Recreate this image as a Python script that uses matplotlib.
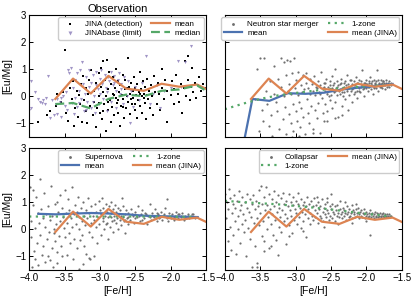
import numpy as np
import matplotlib
matplotlib.use("Agg")
import matplotlib.pyplot as plt

plt.rcParams.update({
    "font.family": ["Liberation Sans", "DejaVu Sans"],
    "font.size": 7,
    "axes.linewidth": 0.8,
    "xtick.direction": "in",
    "ytick.direction": "in",
    "xtick.top": True,
    "ytick.right": True,
    "xtick.major.size": 3,
    "ytick.major.size": 3,
    "axes.unicode_minus": True,
})

# ---- binned lines ----
jina_x = [-3.63, -3.38, -3.13, -2.88, -2.63, -2.38, -2.13, -1.88, -1.63, -1.50]
jina_mean = [-0.10, 0.65, 0.10, 0.75, 0.28, 0.20, 0.46, 0.35, 0.43, 0.27]
jina_median = [-0.29, -0.25, -0.45, -0.10, 0.06, 0.00, 0.20, 0.25, 0.40, 0.20]

nsm_mean_x = [-3.86, -3.61, -3.37, -3.11, -2.86, -2.60, -2.34, -2.10, -1.84, -1.63]
nsm_mean = [-3.40, -0.10, -0.17, 0.11, 0.09, 0.13, 0.25, 0.32, 0.38, 0.45]
nsm_1zone_x = [-4.00, -3.75, -3.50, -3.25, -3.00, -2.75, -2.50, -2.25, -2.00, -1.75, -1.65]
nsm_1zone = [-0.48, -0.28, -0.10, 0.03, 0.12, 0.20, 0.27, 0.32, 0.37, 0.40, 0.42]

sn_mean_x = [-3.87, -3.62, -3.37, -3.12, -2.87, -2.62, -2.37, -2.12, -1.87, -1.62]
sn_mean = [0.57, 0.55, 0.58, 0.60, 0.58, 0.55, 0.50, 0.48, 0.47, 0.45]
sn_1zone_x = [-4.00, -3.50, -3.00, -2.50, -2.00, -1.65]
sn_1zone = [0.47, 0.47, 0.47, 0.47, 0.46, 0.46]

col_1zone_x = [-4.00, -3.75, -3.50, -3.25, -3.00, -2.75, -2.50, -2.25, -2.00, -1.75, -1.65]
col_1zone = [1.05, 1.00, 0.96, 0.92, 0.86, 0.80, 0.73, 0.65, 0.57, 0.50, 0.47]

# ---- scatter points ----
jina_det = [(-3.88,-0.95),(-3.75,-0.7),(-3.7,-0.55),(-3.62,-0.35),(-3.6,0.1),(-3.55,-0.2),(-3.52,0.15),(-3.5,1.72),
    (-3.48,-0.6),(-3.45,-0.9),(-3.42,0.3),(-3.4,-0.1),(-3.38,0.55),(-3.36,-1.1),(-3.35,-0.45),(-3.33,0.2),(-3.31,-0.75),
    (-3.3,0.05),(-3.28,-0.3),(-3.27,0.45),(-3.25,-0.95),(-3.24,0.75),(-3.22,-0.15),(-3.2,0.3),(-3.19,-0.55),(-3.18,-1.0),
    (-3.17,0.1),(-3.15,0.6),(-3.14,-0.35),(-3.12,0.95),(-3.1,-0.7),(-3.09,0.2),(-3.08,-0.2),(-3.06,0.5),(-3.05,-1.15),
    (-3.04,-0.45),(-3.02,0.85),(-3.01,0.0),(-3.0,-0.6),(-2.99,0.35),(-2.98,1.05),(-2.97,-0.85),(-2.96,0.15),(-2.95,1.3),
    (-2.94,-0.3),(-2.93,0.6),(-2.92,-1.3),(-2.91,0.0),(-2.9,1.35),(-2.89,-0.5),(-2.88,0.25),(-2.87,0.9),(-2.86,-0.15),
    (-2.85,-0.95),(-2.84,0.45),(-2.83,-0.4),(-2.82,0.1),(-2.81,0.7),(-2.8,-0.7),(-2.79,0.3),(-2.78,-0.05),(-2.77,1.0),
    (-2.76,-0.25),(-2.75,0.55),(-2.74,-0.6),(-2.73,0.15),(-2.72,-1.1),(-2.71,0.4),(-2.7,-0.35),(-2.69,0.05),(-2.68,0.8),
    (-2.67,-0.1),(-2.66,-0.8),(-2.65,0.25),(-2.64,0.6),(-2.63,-0.45),(-2.62,0.0),(-2.61,1.4),(-2.6,-0.2),(-2.59,0.35),
    (-2.58,-0.65),(-2.57,0.1),(-2.56,0.5),(-2.55,-0.3),(-2.54,0.2),(-2.53,-0.05),(-2.52,0.7),(-2.51,-0.5),(-2.5,0.3),
    (-2.49,0.05),(-2.48,-0.8),(-2.47,0.45),(-2.46,-0.15),(-2.45,0.15),(-2.44,0.9),(-2.43,-0.35),(-2.42,0.25),(-2.41,0.0),
    (-2.4,-0.6),(-2.39,0.55),(-2.38,0.1),(-2.37,-0.25),(-2.36,0.35),(-2.35,-0.85),(-2.34,0.05),(-2.33,0.65),(-2.32,-0.1),
    (-2.31,0.2),(-2.3,-0.45),(-2.28,0.4),(-2.26,0.0),(-2.25,-0.7),(-2.24,0.75),(-2.22,0.15),(-2.2,-0.3),(-2.18,0.5),
    (-2.16,0.1),(-2.15,-0.5),(-2.13,0.3),(-2.12,1.0),(-2.1,-0.1),(-2.08,0.6),(-2.06,0.2),(-2.05,-0.95),(-2.03,0.4),
    (-2.0,0.05),(-1.98,0.55),(-1.96,-0.3),(-1.95,0.25),(-1.92,0.8),(-1.9,0.1),(-1.88,-0.2),(-1.86,0.45),(-1.84,-0.6),
    (-1.82,0.3),(-1.8,1.3),(-1.78,0.0),(-1.76,0.6),(-1.75,1.5),(-1.73,-0.15),(-1.71,0.35),(-1.7,1.05),(-1.68,0.15),
    (-1.66,0.5),(-1.64,-0.05),(-1.62,0.4),(-1.6,0.7),(-1.58,0.2),(-1.55,0.45),(-1.52,0.3),(-3.02,-0.25),(-2.96,-0.55),
    (-2.88,-0.2),(-2.8,0.05),(-2.74,-0.15),(-2.68,-0.4),(-2.62,0.3),(-2.56,-0.1),(-2.5,-0.3),(-2.44,0.1),(-2.38,-0.05)]

jina_lim = [(-4.0,-0.5),(-3.98,-0.45),(-3.97,0.55),(-3.92,0.15),(-3.88,-0.1),(-3.85,-0.2),(-3.82,-0.25),(-3.8,-0.15),
    (-3.78,-0.3),(-3.76,-0.05),(-3.73,0.75),(-3.7,-0.8),(-3.68,-0.15),(-3.65,-0.7),(-3.62,-0.3),(-3.6,-0.1),(-3.57,-0.2),
    (-3.55,-0.05),(-3.52,0.0),(-3.5,-0.35),(-3.48,0.15),(-3.46,-0.5),(-3.45,0.95),(-3.43,0.85),(-3.41,1.05),(-3.4,-0.25),
    (-3.38,0.3),(-3.36,-0.65),(-3.35,0.6),(-3.33,0.85),(-3.32,-0.4),(-3.3,0.2),(-3.28,0.95),(-3.27,-0.1),(-3.25,1.25),
    (-3.24,0.45),(-3.22,-0.55),(-3.21,0.1),(-3.2,0.7),(-3.18,-0.2),(-3.16,0.35),(-3.15,0.95),(-3.13,-0.45),(-3.12,0.5),
    (-3.1,0.8),(-3.08,0.0),(-3.07,-0.6),(-3.05,0.9),(-3.03,0.25),(-3.02,-0.3),(-3.0,0.65),(-2.98,0.95),(-2.97,0.45),
    (-2.95,-0.1),(-2.93,0.8),(-2.92,0.3),(-2.9,-0.55),(-2.88,0.7),(-2.87,0.55),(-2.85,0.9),(-2.84,-0.2),(-2.82,0.4),
    (-2.8,0.75),(-2.78,0.2),(-2.77,-0.45),(-2.75,0.6),(-2.73,0.85),(-2.72,0.1),(-2.7,0.45),(-2.68,-0.3),(-2.66,0.7),
    (-2.64,0.3),(-2.62,0.0),(-2.6,0.55),(-2.58,-1.0),(-2.56,0.2),(-2.54,-0.4),(-2.5,0.35),(-2.45,-0.15),(-2.4,0.5),
    (-2.35,1.5),(-2.3,-0.3),(-2.25,0.1),(-2.2,0.4),(-2.15,-0.45),(-2.1,0.2),(-2.0,0.3),(-1.9,1.3),(-1.85,0.35),
    (-1.8,1.25),(-1.72,1.85),(-3.55,-0.75),(-3.6,-0.65),(-3.3,-0.25),(-3.2,-0.5),(-3.1,-0.2),(-3.0,0.1),(-2.9,0.15),
    (-2.8,0.5),(-2.7,0.25),(-3.35,-0.05),(-3.05,0.4),(-2.95,0.55)]

nsm_pts = [(-3.58,-0.1),(-3.55,1.0),(-3.52,-1.3),(-3.5,1.4),(-3.48,-0.5),(-3.46,-0.9),(-3.44,1.42),(-3.42,0.2),(-3.4,-0.3),
    (-3.38,-1.1),(-3.36,0.55),(-3.35,-0.7),(-3.33,-1.45),(-3.31,0.1),(-3.3,1.1),(-3.28,-0.2),(-3.26,-0.55),(-3.25,0.65),
    (-3.23,-1.2),(-3.21,0.35),(-3.2,1.4),(-3.18,-0.85),(-3.17,0.0),(-3.16,1.25),(-3.15,-0.4),(-3.14,0.8),(-3.13,-1.4),
    (-3.12,1.35),(-3.11,0.2),(-3.1,-0.65),(-3.09,0.45),(-3.08,1.3),(-3.07,-1.0),(-3.06,0.1),(-3.05,0.85),(-3.04,-0.3),
    (-3.03,-1.3),(-3.02,1.4),(-3.01,0.3),(-3.0,-0.55),(-2.99,0.6),(-2.98,-0.9),(-2.97,0.05),(-2.96,0.9),(-2.95,-0.2),
    (-2.94,-1.15),(-2.93,0.4),(-2.92,-0.45),(-2.91,0.15),(-2.9,0.8),(-2.89,-0.75),(-2.88,0.25),(-2.87,-1.4),(-2.86,0.5),
    (-2.85,0.85),(-2.84,-0.1),(-2.83,-0.6),(-2.82,0.3),(-2.81,-1.0),(-2.8,0.65),(-2.79,0.1),(-2.78,-0.35),(-2.77,0.45),
    (-2.76,-1.2),(-2.75,0.2),(-2.74,0.75),(-2.73,-0.5),(-2.72,0.05),(-2.71,0.35),(-2.7,-0.8),(-2.69,0.55),(-2.68,-0.25),
    (-2.67,0.15),(-2.66,-1.35),(-2.65,0.4),(-2.64,0.9),(-2.63,-0.05),(-2.62,0.3),(-2.61,-0.6),(-2.6,0.5),(-2.59,0.2),
    (-2.58,-0.3),(-2.57,0.65),(-2.56,0.1),(-2.55,-0.9),(-2.54,0.35),(-2.53,0.0),(-2.52,0.55),(-2.51,-0.15),(-2.5,0.25),
    (-2.49,0.75),(-2.48,-0.45),(-2.47,0.4),(-2.46,0.15),(-2.45,1.0),(-2.44,-0.2),(-2.43,0.3),(-2.42,0.55),(-2.41,0.05),
    (-2.4,-0.75),(-2.39,0.2),(-2.38,0.45),(-2.37,0.1),(-2.36,0.65),(-2.35,-0.35),(-2.34,0.3),(-2.33,0.0),(-2.32,0.5),
    (-2.31,0.15),(-2.3,-0.1),(-2.29,0.4),(-2.28,0.8),(-2.27,0.25),(-2.26,-0.5),(-2.25,0.35),(-2.24,0.05),(-2.23,0.6),
    (-2.22,0.2),(-2.21,0.45),(-2.2,-0.2),(-2.19,0.3),(-2.18,0.55),(-2.17,0.1),(-2.16,0.4),(-2.15,0.7),(-2.14,0.2),
    (-2.13,-0.05),(-2.12,0.5),(-2.11,0.3),(-2.1,0.6),(-2.09,0.15),(-2.08,0.45),(-2.07,0.35),(-2.06,0.95),(-2.05,0.25),
    (-2.04,0.5),(-2.03,0.0),(-2.02,0.4),(-2.01,0.6),(-2.0,0.3),(-1.99,0.45),(-1.98,0.2),(-1.97,0.55),(-1.96,0.35),
    (-1.95,0.7),(-1.94,0.25),(-1.93,0.5),(-1.92,0.4),(-1.91,0.1),(-1.9,0.6),(-1.89,0.35),(-1.88,0.45),(-1.87,0.3),
    (-1.86,0.55),(-1.85,0.95),(-1.84,0.4),(-1.83,0.2),(-1.82,0.5),(-1.81,0.35),(-1.8,0.6),(-1.79,0.45),(-1.78,0.3),
    (-1.77,0.55),(-1.76,0.4),(-1.75,0.5),(-1.74,0.25),(-1.73,0.45),(-1.72,0.6),(-1.71,0.35),(-1.7,0.5),(-1.69,0.4),
    (-1.68,0.55),(-1.67,0.45),(-1.66,0.5),(-1.65,0.4),(-2.45,-0.8),(-2.6,-0.9),(-2.95,-1.45),(-3.05,-1.5),(-2.75,-1.35),
    (-2.55,-0.55),(-2.35,-0.7),(-2.4,0.4),(-2.38,0.25),(-2.36,0.5),(-2.34,0.15),(-2.32,0.35),(-2.3,0.55),(-2.28,0.2),
    (-2.26,0.45),(-2.24,0.3),(-2.22,0.6),(-2.2,0.25),(-2.18,0.4),(-2.16,0.15),(-2.14,0.5),(-2.12,0.35),(-2.1,0.2),
    (-2.08,0.55),(-2.06,0.4),(-2.04,0.3),(-2.02,0.5),(-2.0,0.45),(-1.98,0.35),(-1.96,0.5),(-1.94,0.4),(-1.92,0.55),
    (-1.9,0.3),(-1.88,0.5),(-1.86,0.4),(-1.84,0.6),(-1.82,0.45),(-1.8,0.35),(-1.78,0.5),(-1.76,0.55),(-1.74,0.4),
    (-1.72,0.5),(-1.7,0.45),(-1.68,0.35),(-1.66,0.45),(-2.7,0.3),(-2.65,0.1),(-2.6,0.35),(-2.58,0.5),(-2.55,0.15),
    (-2.52,0.4),(-2.5,0.05),(-2.48,0.3),(-2.46,0.5),(-2.44,0.2),(-2.42,0.35)]

sn_pts = [(-3.99,1.55),(-3.98,0.3),(-3.97,-0.3),(-3.96,-1.4),(-3.95,1.45),(-3.94,0.9),(-3.93,-0.8),(-3.92,-1.1),(-3.91,0.05),
    (-3.9,1.2),(-3.89,-0.5),(-3.88,0.6),(-3.87,-1.3),(-3.86,0.25),(-3.85,1.85),(-3.84,-0.2),(-3.83,0.75),(-3.82,-0.95),
    (-3.81,0.4),(-3.8,-0.6),(-3.79,1.35),(-3.78,0.1),(-3.77,-1.2),(-3.76,0.55),(-3.75,-0.35),(-3.74,-1.0),(-3.73,0.85),
    (-3.72,-0.1),(-3.71,-1.15),(-3.7,0.35),(-3.69,1.6),(-3.68,-0.7),(-3.67,0.5),(-3.66,-1.4),(-3.65,0.0),(-3.64,0.95),
    (-3.63,-0.45),(-3.62,0.2),(-3.61,1.0),(-3.6,-0.85),(-3.59,0.65),(-3.58,-0.25),(-3.57,1.25),(-3.56,0.3),(-3.55,-0.6),
    (-3.54,0.8),(-3.53,-1.0),(-3.52,0.45),(-3.51,0.05),(-3.5,1.45),(-3.49,-0.3),(-3.48,0.6),(-3.47,-0.95),(-3.46,0.25),
    (-3.45,1.1),(-3.44,-0.15),(-3.43,0.7),(-3.42,-0.5),(-3.41,0.4),(-3.4,1.55),(-3.39,0.1),(-3.38,-1.1),(-3.37,0.55),
    (-3.36,-0.35),(-3.35,0.9),(-3.34,0.2),(-3.33,-0.7),(-3.32,0.65),(-3.31,1.2),(-3.3,0.0),(-3.29,0.45),(-3.28,-0.4),
    (-3.27,0.8),(-3.26,0.3),(-3.25,-0.2),(-3.24,1.0),(-3.23,0.5),(-3.22,-0.6),(-3.21,0.15),(-3.2,0.7),(-3.19,-0.9),
    (-3.18,0.4),(-3.17,1.15),(-3.16,-0.1),(-3.15,0.6),(-3.14,-1.1),(-3.13,0.25),(-3.12,0.85),(-3.11,-0.3),(-3.1,0.5),
    (-3.09,-1.0),(-3.08,0.35),(-3.07,0.95),(-3.06,0.1),(-3.05,0.65),(-3.04,-0.5),(-3.03,0.45),(-3.02,1.05),(-3.01,0.2),
    (-3.0,0.7),(-2.99,-0.2),(-2.98,0.55),(-2.97,1.15),(-2.96,0.3),(-2.95,0.8),(-2.94,0.0),(-2.93,0.5),(-2.92,0.95),
    (-2.91,0.2),(-2.9,0.65),(-2.89,-0.35),(-2.88,0.45),(-2.87,0.85),(-2.86,0.1),(-2.85,0.6),(-2.84,1.0),(-2.83,0.3),
    (-2.82,0.75),(-2.81,-0.1),(-2.8,0.5),(-2.79,0.9),(-2.78,0.25),(-2.77,0.65),(-2.76,0.4),(-2.75,0.8),(-2.74,0.0),
    (-2.73,0.55),(-2.72,0.35),(-2.71,0.7),(-2.7,0.15),(-2.69,1.17),(-2.68,0.45),(-2.67,0.85),(-2.66,0.3),(-2.65,0.55),
    (-2.64,-0.15),(-2.63,0.7),(-2.62,0.4),(-2.61,0.2),(-2.6,0.6),(-2.58,0.35),(-2.56,0.75),(-2.54,0.5),(-2.52,0.25),
    (-2.5,0.65),(-2.48,0.45),(-2.46,0.85),(-2.44,0.3),(-2.42,0.55),(-2.4,0.7),(-2.38,0.4),(-2.36,0.6),(-2.34,0.2),
    (-2.32,0.5),(-2.3,0.95),(-2.28,0.35),(-2.26,0.6),(-2.24,0.45),(-2.22,0.75),(-2.2,0.3),(-2.18,0.55),(-2.16,0.4),
    (-2.14,0.65),(-2.12,0.35),(-2.1,0.5),(-2.08,0.8),(-2.06,0.45),(-2.05,1.1),(-2.04,0.3),(-2.02,0.6),(-2.0,0.4),
    (-1.98,0.55),(-1.96,0.35),(-1.94,0.5),(-1.92,0.65),(-1.9,0.4),(-1.88,0.55),(-1.86,0.45),(-1.84,0.6),(-1.82,0.35),
    (-1.8,0.5),(-1.78,0.45),(-1.76,0.55),(-1.74,0.4),(-1.72,0.5),(-1.7,0.45),(-1.68,0.55),(-1.66,0.4),
    (-2.95,0.4),(-2.9,0.25),(-2.85,0.45),(-2.8,0.35),(-2.75,0.55),(-2.7,0.5),(-2.65,0.35),(-2.6,0.45),(-2.55,0.55),
    (-2.5,0.4),(-2.45,0.5),(-2.4,0.35),(-2.35,0.55),(-2.3,0.45),(-2.25,0.5),(-2.2,0.6),(-2.15,0.45),(-2.1,0.55),
    (-2.05,0.4),(-2.0,0.5),(-1.95,0.45),(-1.9,0.55),(-1.85,0.5),(-1.8,0.4),(-1.75,0.5),(-1.7,0.55),(-3.24,-1.28),
    (-3.15,-1.05),(-3.3,-1.45),(-3.6,-1.25),(-3.65,-0.15)]

col_pts = [(-3.99,1.3),(-3.98,0.4),(-3.97,1.0),(-3.96,-0.45),(-3.95,0.75),(-3.94,1.5),(-3.93,0.1),(-3.92,1.15),(-3.91,-0.75),
    (-3.9,0.6),(-3.89,0.95),(-3.88,-0.2),(-3.87,1.25),(-3.86,0.3),(-3.85,0.8),(-3.84,-0.9),(-3.83,1.05),(-3.82,0.5),
    (-3.81,0.0),(-3.8,1.4),(-3.79,0.7),(-3.78,-0.5),(-3.77,0.9),(-3.76,0.2),(-3.75,1.2),(-3.74,0.55),(-3.73,-0.1),
    (-3.72,1.0),(-3.71,0.35),(-3.7,-1.0),(-3.69,0.8),(-3.68,1.3),(-3.67,0.05),(-3.66,0.65),(-3.65,1.1),(-3.64,-0.35),
    (-3.63,0.45),(-3.62,0.95),(-3.61,-1.4),(-3.6,1.25),(-3.59,0.25),(-3.58,0.75),(-3.57,-0.6),(-3.56,1.05),(-3.55,0.4),
    (-3.54,-1.25),(-3.53,0.85),(-3.52,1.45),(-3.51,0.15),(-3.5,0.6),(-3.49,1.6),(-3.48,-0.25),(-3.47,0.95),(-3.46,0.3),
    (-3.45,1.2),(-3.44,-0.45),(-3.43,0.7),(-3.42,1.55),(-3.41,0.0),(-3.4,0.9),(-3.39,0.45),(-3.38,1.3),(-3.37,-0.7),
    (-3.36,0.75),(-3.35,0.2),(-3.34,1.1),(-3.33,0.55),(-3.32,-0.2),(-3.31,1.4),(-3.3,0.85),(-3.29,0.35),(-3.28,1.0),
    (-3.27,-0.4),(-3.26,0.65),(-3.25,1.25),(-3.24,0.1),(-3.23,0.8),(-3.22,0.45),(-3.21,1.15),(-3.2,-0.1),(-3.19,0.7),
    (-3.18,1.35),(-3.17,0.3),(-3.16,0.95),(-3.15,0.55),(-3.14,-0.55),(-3.13,1.05),(-3.12,0.4),(-3.11,0.85),(-3.1,1.3),
    (-3.09,0.15),(-3.08,0.7),(-3.07,1.0),(-3.06,0.5),(-3.05,-0.15),(-3.04,0.9),(-3.03,1.2),(-3.02,0.35),(-3.01,0.75),
    (-3.0,1.05),(-2.99,0.6),(-2.98,0.2),(-2.97,0.95),(-2.96,1.35),(-2.95,0.45),(-2.94,0.8),(-2.93,0.05),(-2.92,1.1),
    (-2.91,0.65),(-2.9,0.9),(-2.89,0.3),(-2.88,1.0),(-2.87,0.55),(-2.86,-0.3),(-2.85,0.85),(-2.84,1.2),(-2.83,0.4),
    (-2.82,0.75),(-2.81,0.95),(-2.8,0.2),(-2.79,0.6),(-2.78,1.05),(-2.77,0.5),(-2.76,0.85),(-2.75,0.35),(-2.74,1.15),
    (-2.73,0.7),(-2.72,0.45),(-2.71,0.9),(-2.7,0.6),(-2.69,0.25),(-2.68,1.0),(-2.67,0.75),(-2.66,0.5),(-2.65,0.85),
    (-2.64,0.4),(-2.63,1.1),(-2.62,0.65),(-2.61,0.3),(-2.6,0.8),(-2.59,0.55),(-2.58,0.95),(-2.57,0.45),(-2.56,0.7),
    (-2.55,1.0),(-2.54,0.6),(-2.53,0.35),(-2.52,0.85),(-2.51,0.5),(-2.5,0.75),(-2.49,0.95),(-2.48,0.4),(-2.47,0.65),
    (-2.46,0.55),(-2.45,0.85),(-2.44,0.3),(-2.43,0.7),(-2.42,0.5),(-2.41,0.9),(-2.4,0.6),(-2.39,0.45),(-2.38,0.75),
    (-2.37,1.05),(-2.36,0.55),(-2.35,0.65),(-2.34,0.4),(-2.33,0.8),(-2.32,0.5),(-2.31,0.7),(-2.3,0.6),(-2.29,0.35),
    (-2.28,0.85),(-2.27,0.55),(-2.26,0.65),(-2.25,0.45),(-2.24,0.75),(-2.23,0.5),(-2.22,0.6),(-2.21,0.9),(-2.2,0.4),
    (-2.19,0.7),(-2.18,0.55),(-2.17,0.65),(-2.16,0.45),(-2.15,0.75),(-2.14,0.5),(-2.13,0.6),(-2.12,0.8),(-2.11,0.4),
    (-2.1,0.55),(-2.09,0.65),(-2.08,0.5),(-2.07,0.7),(-2.06,0.45),(-2.05,0.6),(-2.04,0.55),(-2.03,0.75),(-2.02,0.4),
    (-2.01,0.5),(-2.0,0.65),(-1.99,0.55),(-1.98,0.45),(-1.97,0.6),(-1.96,0.5),(-1.95,0.7),(-1.94,0.45),(-1.93,0.55),
    (-1.92,0.6),(-1.91,0.5),(-1.9,0.4),(-1.89,0.55),(-1.88,0.65),(-1.87,0.45),(-1.86,0.5),(-1.85,0.6),(-1.84,0.55),
    (-1.83,0.45),(-1.82,0.5),(-1.81,0.6),(-1.8,0.5),(-1.79,0.45),(-1.78,0.55),(-1.77,0.5),(-1.76,0.6),(-1.75,0.45),
    (-1.74,0.55),(-1.73,0.5),(-1.72,0.45),(-1.71,0.55),(-1.7,0.5),(-1.69,0.45),(-1.68,0.55),(-1.67,0.5),(-1.66,0.48),
    (-1.95,-0.2),(-2.5,1.3),(-3.55,-1.4),(-3.45,-0.8),(-3.35,-0.6),(-3.25,-0.95),(-3.1,-0.25),(-2.9,-0.05),
    (-2.6,0.1),(-2.4,0.2),(-2.2,0.25),(-2.0,0.3),(-2.3,1.0),(-2.15,0.95),(-2.7,1.2),(-2.55,1.15)]

blue = "#4c72b0"
orange = "#dd8452"
green = "#55a868"
purple = "#8172b3"
grey = "#6f6f6f"


def xy(pts):
    a = np.array(pts)
    return a[:, 0], a[:, 1]


fig, axes = plt.subplots(2, 2, figsize=(4.16, 2.97), dpi=100, sharex=True, sharey=True)
fig.subplots_adjust(left=0.07, right=0.966, top=0.95, bottom=0.091, wspace=0.105, hspace=0.09)
ax1, ax2, ax3, ax4 = axes.ravel()

x, y = xy(jina_det)
ax1.scatter(x, y, s=1.6, marker="s", color="black", lw=0, label="JINA (detection)")
x, y = xy(jina_lim)
ax1.scatter(x, y, s=5, marker="v", color=purple, lw=0, alpha=0.75, label="JINAbase (limit)")
ax1.plot(jina_x, jina_mean, color=orange, lw=1.6, label="mean")
ax1.plot(jina_x, jina_median, color=green, lw=1.6, ls=(0, (4, 2)), label="median")
ax1.set_title("Observation", fontsize=8, pad=2)

x, y = xy(nsm_pts)
ax2.scatter(x, y, s=2.5, marker="o", color=grey, lw=0, label="Neutron star merger")
ax2.plot(nsm_mean_x, nsm_mean, color=blue, lw=1.6, label="mean")
ax2.plot(nsm_1zone_x, nsm_1zone, color=green, lw=1.6, ls=(0, (1, 2)), label="1-zone")
ax2.plot(jina_x, jina_mean, color=orange, lw=1.6, label="mean (JINA)")

x, y = xy(sn_pts)
ax3.scatter(x, y, s=2.5, marker="o", color=grey, lw=0, label="Supernova")
ax3.plot(sn_mean_x, sn_mean, color=blue, lw=1.6, label="mean")
ax3.plot(sn_1zone_x, sn_1zone, color=green, lw=1.6, ls=(0, (1, 2)), label="1-zone")
ax3.plot(jina_x, jina_mean, color=orange, lw=1.6, label="mean (JINA)")

x, y = xy(col_pts)
ax4.scatter(x, y, s=2.5, marker="o", color=grey, lw=0, label="Collapsar")
ax4.plot(col_1zone_x, col_1zone, color=green, lw=1.6, ls=(0, (1, 2)), label="1-zone")
ax4.plot(jina_x, jina_mean, color=orange, lw=1.6, label="mean (JINA)")

for ax in axes.ravel():
    ax.set_xlim(-4.0, -1.5)
    ax.set_ylim(-1.5, 3.0)
    ax.set_xticks([-4.0, -3.5, -3.0, -2.5, -2.0, -1.5])
    ax.set_yticks([-1, 0, 1, 2, 3])
    ax.tick_params(labelsize=7, pad=2, width=0.7)
    ax.legend(loc="upper right", ncol=2, fontsize=5.8, markerscale=1.3, handlelength=2.3,
              columnspacing=1.2, labelspacing=0.2, borderpad=0.35, handletextpad=0.6,
              borderaxespad=0.3, framealpha=1, edgecolor="#cccccc")

for ax in axes[:, 0]:
    ax.set_ylabel("[Eu/Mg]", fontsize=7.5, labelpad=2)
for ax in axes[1, :]:
    ax.set_xlabel("[Fe/H]", fontsize=7.5, labelpad=2)

plt.savefig("out.png", dpi=100)
